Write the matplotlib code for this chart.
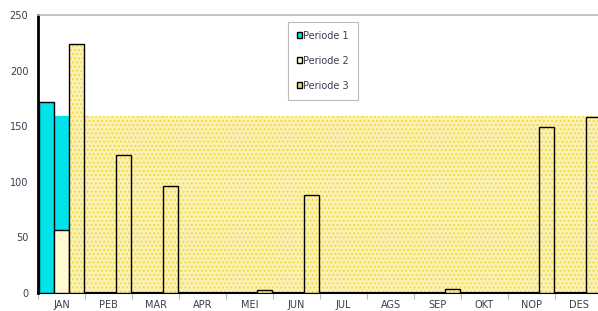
import matplotlib
matplotlib.use("Agg")
import matplotlib.pyplot as plt
import numpy as np
from matplotlib.patches import Patch

months = ["JAN", "PEB", "MAR", "APR", "MEI", "JUN", "JUL", "AGS", "SEP", "OKT", "NOP", "DES"]
periode1 = [172, 0, 0, 0, 0, 0, 0, 0, 0, 0, 0, 0]
periode2 = [57, 0, 0, 0, 0, 0, 0, 0, 0, 0, 0, 0]
periode3 = [224, 124, 96, 0, 3, 88, 0, 0, 4, 0, 149, 158]
level = 159
yticks = [0, 50, 100, 150, 200, 250]

plt.rcParams['hatch.linewidth'] = 0.9
fig = plt.figure(figsize=(5.98, 3.11), dpi=100)
W, H = 598, 311
ax = fig.add_axes([38 / W, (311 - 293) / H, 564 / W, 278 / H])

x = np.arange(len(months))
bw = 0.32
cyan = "#00e3ea"
cream = "#fffad0"
yfill = "#fcf1b4"
ydot = "#f0dc3c"
tcol = "#3c3c50"


def nz(vals):
    return [v if v > 0 else np.nan for v in vals]


# background area (level)
edge_p2 = x[0] + 0.5 * bw
ax.bar([-0.5], [level], width=edge_p2 + 0.5, align="edge", color=cyan, linewidth=0, zorder=1)
ax.bar([edge_p2], [level], width=11.5 - edge_p2 + 0.2, align="edge", color=yfill,
       edgecolor=ydot, hatch="....", linewidth=0, zorder=1)

# Periode 1
ax.bar(x - bw, nz(periode1), width=bw, color=cyan, edgecolor="black", linewidth=1.0, zorder=3)
# Periode 2
ax.bar(x, nz(periode2), width=bw, color=cream, edgecolor="black", linewidth=1.0, zorder=3)
# Periode 3
ax.bar(x + bw, nz(periode3), width=bw, color=yfill, edgecolor=ydot, hatch="....", linewidth=0, zorder=3)
ax.bar(x + bw, nz(periode3), width=bw, fill=False, edgecolor="black", linewidth=1.0, zorder=4)

ax.set_xlim(-0.5, 11.5)
ax.set_ylim(0, 250)
ax.set_yticks(yticks)
ax.set_xticks(x)
ax.set_xticklabels(months)
ax.set_xticks(np.arange(-0.5, 12, 1), minor=True)
ax.tick_params(axis="x", which="major", length=0, labelsize=7, labelcolor=tcol, pad=5)
ax.tick_params(axis="x", which="minor", length=4, color="#bbbbbb", width=0.8)
ax.tick_params(axis="y", length=0, labelsize=7, labelcolor=tcol, pad=7)

ax.spines["left"].set_linewidth(2)
ax.spines["left"].set_color("black")
ax.spines["bottom"].set_linewidth(1.5)
ax.spines["bottom"].set_color("black")
ax.spines["top"].set_color("#bbbbbb")
ax.spines["top"].set_linewidth(1.2)
ax.spines["right"].set_visible(False)

handles = [
    Patch(facecolor=cyan, edgecolor="black", linewidth=1.0),
    Patch(facecolor=cream, edgecolor="black", linewidth=1.0),
    Patch(facecolor="#f0dc70", edgecolor="black", linewidth=1.0),
]
leg = ax.legend(handles, ["Periode 1", "Periode 2", "Periode 3"],
                loc="upper left", bbox_to_anchor=(0.443, 0.975),
                fontsize=7, frameon=True, fancybox=False, handlelength=0.55,
                handleheight=0.55, handletextpad=0.15, labelspacing=1.55,
                borderpad=0.9, borderaxespad=0)
leg.get_frame().set_edgecolor("#aaaaaa")
leg.get_frame().set_linewidth(0.8)
for t in leg.get_texts():
    t.set_color(tcol)
leg.set_zorder(10)

fig.savefig("out.png", dpi=100)
